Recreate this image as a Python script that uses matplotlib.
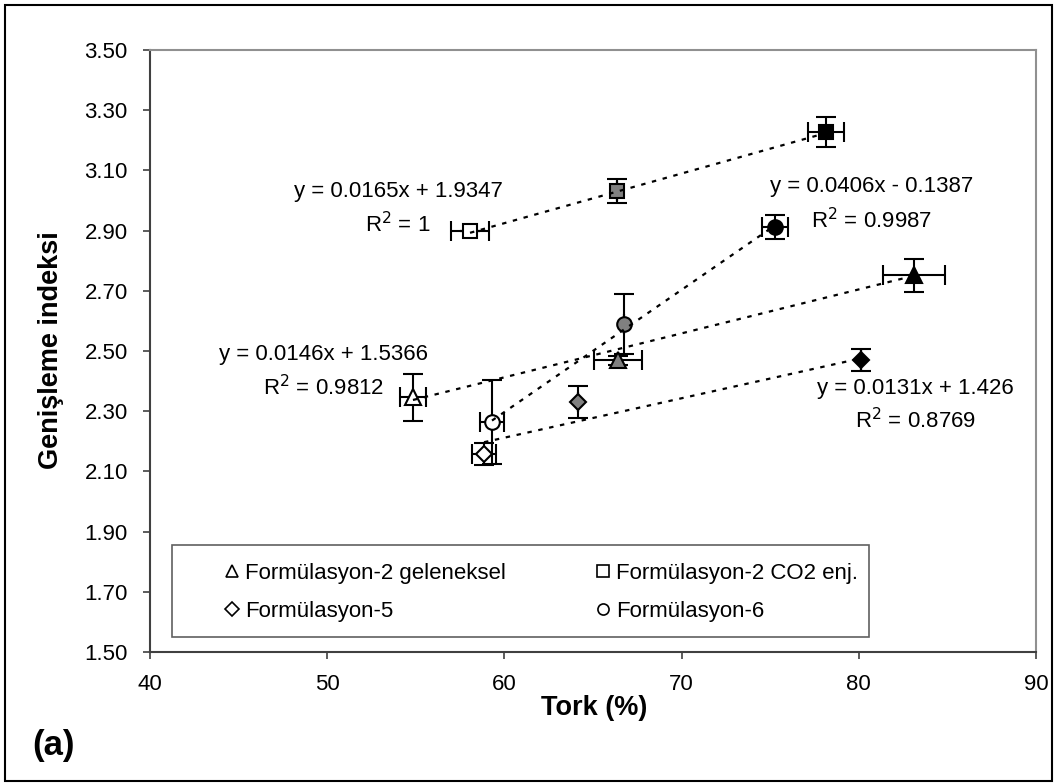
import numpy as np
import matplotlib
matplotlib.use("Agg")
import matplotlib.pyplot as plt
from matplotlib.lines import Line2D
from matplotlib.patches import Rectangle

plt.rcParams['font.family'] = ['Liberation Sans', 'DejaVu Sans']

# series: white / gray / black points for each formulation
labels = ['Formülasyon-2 geleneksel', 'Formülasyon-2 CO2 enj.',
          'Formülasyon-5', 'Formülasyon-6']
markers = ['^', 's', 'D', 'o']
fills = ['white', '#808080', 'black']

tri_x = [54.84, 66.41, 83.10]
tri_y = [2.347, 2.470, 2.752]
tri_xerr = [0.73, 1.38, 1.75]
tri_yerr = [0.078, 0.015, 0.055]

sq_x = [58.06, 66.35, 78.15]
sq_y = [2.899, 3.032, 3.228]
sq_xerr = [1.07, 0.0, 1.00]
sq_yerr = [0.0, 0.040, 0.050]

dia_x = [58.85, 64.15, 80.12]
dia_y = [2.158, 2.330, 2.470]
dia_xerr = [0.70, 0.0, 0.0]
dia_yerr = [0.037, 0.053, 0.037]

cir_x = [59.30, 66.75, 75.27]
cir_y = [2.264, 2.590, 2.912]
cir_xerr = [0.70, 0.0, 0.76]
cir_yerr = [0.140, 0.100, 0.040]

# trendline equations shown on the chart
slopes = [0.0146, 0.0165, 0.0131, 0.0406]
intercepts = [1.5366, 1.9347, 1.426, -0.1387]
eq_text = ['y = 0.0146x + 1.5366', 'y = 0.0165x + 1.9347',
           'y = 0.0131x + 1.426', 'y = 0.0406x - 0.1387']
r2_text = ['R$^2$ = 0.9812', 'R$^2$ = 1', 'R$^2$ = 0.8769', 'R$^2$ = 0.9987']
eq_pos = [(49.8, 2.487), (54.0, 3.030), (83.2, 2.377), (80.7, 3.045)]
r2_pos = [(49.8, 2.377), (54.0, 2.920), (83.2, 2.270), (80.7, 2.933)]

xs = [tri_x, sq_x, dia_x, cir_x]
ys = [tri_y, sq_y, dia_y, cir_y]
xerrs = [tri_xerr, sq_xerr, dia_xerr, cir_xerr]
yerrs = [tri_yerr, sq_yerr, dia_yerr, cir_yerr]
msizes = [11, 10, 8.5, 10.5]

fig = plt.figure(figsize=(10.58, 7.83), dpi=100)
ax = fig.add_axes([150 / 1058, 1 - 652 / 783, 886 / 1058, 602 / 783])

for s in range(4):
    x = np.array(xs[s])
    ax.errorbar(x, ys[s], xerr=xerrs[s], yerr=yerrs[s], fmt='none',
                ecolor='black', elinewidth=1.5, capsize=7, capthick=1.5,
                zorder=2)
    for i in range(3):
        ax.plot(x[i], ys[s][i], marker=markers[s], ms=msizes[s],
                mfc=fills[i], mec='black', mew=1.5, ls='none', zorder=3)
    xl = np.array([x.min(), x.max()])
    ax.plot(xl, slopes[s] * xl + intercepts[s], color='black', lw=1.6,
            ls=(0, (2.0, 3.0)), zorder=4)
    ax.text(*eq_pos[s], eq_text[s], fontsize=16, ha='center', va='center')
    ax.text(*r2_pos[s], r2_text[s], fontsize=16, ha='center', va='center')

ax.set_xlim(40, 90)
ax.set_ylim(1.5, 3.5)
ax.set_xticks(np.arange(40, 91, 10))
ax.set_yticks(np.arange(1.5, 3.51, 0.2))
ax.set_yticklabels(['%.2f' % v for v in np.arange(1.5, 3.51, 0.2)])
ax.tick_params(labelsize=16, length=5, width=1.2, color='#404040')
ax.tick_params(axis='y', pad=11)
ax.tick_params(axis='x', pad=10.5)
for side in ['left', 'bottom']:
    ax.spines[side].set_color('#404040')
    ax.spines[side].set_linewidth(1.5)
for side in ['top', 'right']:
    ax.spines[side].set_color('#909090')
    ax.spines[side].set_linewidth(1.5)

fig.text(594 / 1058, 1 - 708 / 783, 'Tork (%)', fontsize=19.5,
         fontweight='bold', ha='center', va='center')
fig.text(51 / 1058, 1 - 350 / 783, 'Genişleme indeksi', fontsize=19.5,
         fontweight='bold', ha='center', va='center', rotation=90)

# legend box
ax.add_patch(Rectangle((0.025, 0.025), 0.786, 0.153, transform=ax.transAxes,
                       fill=False, edgecolor='#606060', lw=1.2, zorder=5))
handles = [Line2D([], [], marker=markers[s], ms=8 if s != 2 else 7,
                  mfc='white', mec='black', mew=1.2, ls='none')
           for s in range(4)]
order = [0, 2, 1, 3]
leg = ax.legend([handles[i] for i in order], [labels[i] for i in order],
                ncol=2, loc='upper left', bbox_to_anchor=(0.0824, 0.148),
                fontsize=16, frameon=False, handlelength=0.8,
                handletextpad=0.18, columnspacing=4.0, borderpad=0,
                labelspacing=0.76, borderaxespad=0)

fig.text(54 / 1058, 1 - 745 / 783, '(a)', fontsize=25, fontweight='bold',
         va='center', ha='center')

fig.patches.append(Rectangle((5 / 1058, 2 / 783), 1047 / 1058, 776 / 783,
                             transform=fig.transFigure, fill=False,
                             edgecolor='black', lw=1.5))

fig.savefig('out.png', dpi=100)
